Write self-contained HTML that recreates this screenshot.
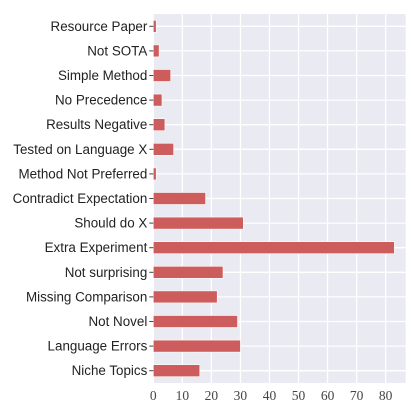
<!DOCTYPE html>
<html><head><meta charset="utf-8"><style>
body{margin:0;background:#fff;width:411px;height:402px;overflow:hidden}
svg text{font-family:"Liberation Sans",sans-serif}
</style></head><body>
<svg id="chart" width="411" height="402"></svg>
<script>
const categories=["Resource Paper","Not SOTA","Simple Method","No Precedence","Results Negative","Tested on Language X","Method Not Preferred","Contradict Expectation","Should do X","Extra Experiment","Not surprising","Missing Comparison","Not Novel","Language Errors","Niche Topics"];
const values=[1,2,6,3,4,7,1,18,31,83,24,22,29,30,16];
const xTicks=[0,10,20,30,40,50,60,70,80];
const NS="http://www.w3.org/2000/svg";
const svg=document.getElementById('chart');
const L=153.3,R=405.7,T=14,B=383,XMAX=86.9;
const x=v=>L+(v/XMAX)*(R-L);
const step=(B-T)/categories.length;
const y=i=>T+step*(i+0.5);
function mk(t,a){const e=document.createElementNS(NS,t);for(const k in a)e.setAttribute(k,a[k]);svg.appendChild(e);return e;}
const bg=mk('rect',{x:L,y:T,width:R-L,height:B-T,fill:'#eaeaf2'});


xTicks.forEach(t=>{
  const g=mk('line',{x1:x(t),x2:x(t),y1:T,y2:B,stroke:'#fff','stroke-width':1.3});
  
  
  const tl=mk('text',{x:x(t),y:400,'text-anchor':'middle','font-size':13.5,fill:'#444'});
  tl.style.fontFamily='"Liberation Serif",serif';
  tl.textContent=t;
  
  
});
categories.forEach((c,i)=>{
  const g=mk('line',{x1:L,x2:R,y1:y(i),y2:y(i),stroke:'#fff','stroke-width':1.3});
  
  
});
categories.forEach((c,i)=>{
  const b=mk('rect',{x:L,y:y(i)-6,width:x(values[i])-L,height:12,fill:'#cd5c5c',stroke:'#fff','stroke-width':0.6});
  
  
  const tk=mk('line',{x1:L-4,x2:L,y1:y(i),y2:y(i),stroke:'#444','stroke-width':1});
  
  
  const tl=mk('text',{x:L-6,y:y(i)+4.5,'text-anchor':'end','font-size':13.4,fill:'#222'});
  tl.textContent=c;
  
  
});
</script>
</body></html>
